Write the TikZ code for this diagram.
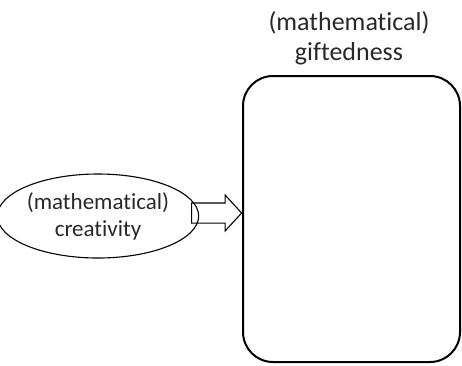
\documentclass[tikz,border=0pt]{standalone}
\usepackage{fontspec}
\setmainfont{Carlito}[Ligatures={NoCommon}]
\usepackage{tikz}
\usetikzlibrary{shapes,shapes.arrows,positioning,calc}
\definecolor{txtcolor}{RGB}{40,40,40}

\begin{document}
\begin{tikzpicture}[
    x=1pt, y=-1pt,
    gbox/.style={rectangle, draw, line width=2pt, rounded corners=30pt, minimum width=217pt, minimum height=286pt},
    cell/.style={ellipse, draw, line width=1.1pt, minimum width=172pt, minimum height=84pt, inner sep=0pt, align=center, text=txtcolor, font=\fontsize{23}{27}\selectfont},
    title/.style={align=center, text=txtcolor, font=\fontsize{26}{30}\selectfont},
    blockarrow/.style={single arrow, draw, line width=1.1pt, inner xsep=0pt, inner ysep=9.5pt, single arrow head extend=8pt, single arrow tip angle=95, minimum height=50pt}
]
\useasboundingbox (0,0) rectangle (462,365);

% giftedness box
\node[gbox] (box) at (351.5,219) {};
\node[title] (boxlbl) at (349,38) {(mathematical)\\giftedness};

% creativity
\node[cell] (cre) at (98,216) {(mathematical)\\creativity};

% arrow
\node[blockarrow] (arr) at (212,213) {};

\end{tikzpicture}
\end{document}
